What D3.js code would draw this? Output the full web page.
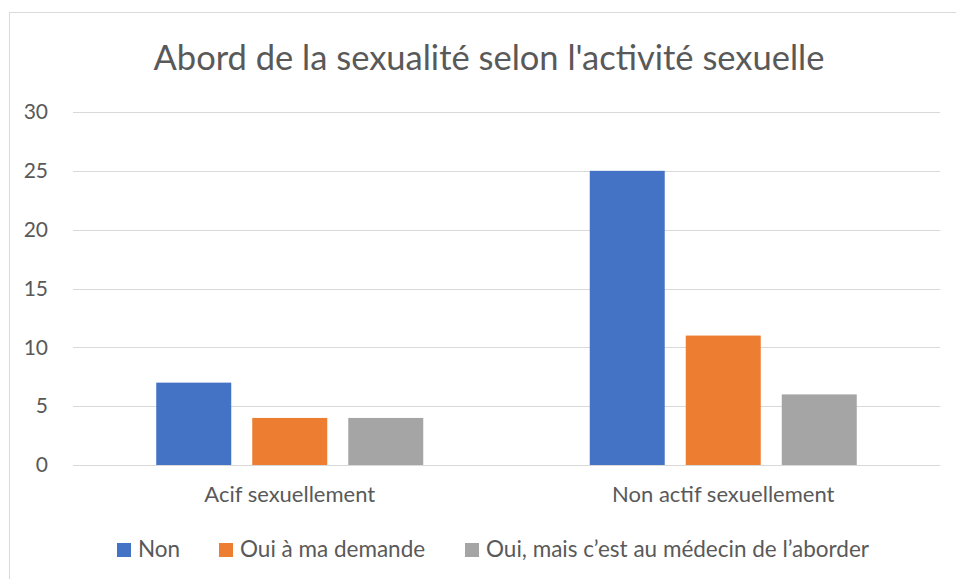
<!DOCTYPE html>
<html>
<head>
<meta charset="utf-8">
<script src="https://cdn.jsdelivr.net/npm/d3@7"></script>
<style>
  body { margin: 0; background: #fff; }
  text { font-family: Lato, sans-serif; fill: #595959; }
</style>
</head>
<body>
<div id="chart"></div>
<script>
// chart data
const categories = ["Acif sexuellement", "Non actif sexuellement"];
const seriesNames = ["Non", "Oui à ma demande", "Oui, mais c\u2019est au médecin de l\u2019aborder"];
const seriesNon = [7, 25];
const seriesOuiDemande = [4, 11];
const seriesOuiMedecin = [4, 6];
const yTicks = [0, 5, 10, 15, 20, 25, 30];
const colors = ["#4472c4", "#ed7d31", "#a5a5a5"];

const width = 956, height = 579;
const margin = { left: 73, right: 16, top: 112, bottom: 114 };

const svg = d3.select("#chart").append("svg")
    .attr("width", width)
    .attr("height", height);

// chart border
svg.append("rect")
    .attr("x", 9.5).attr("y", 12.5)
    .attr("width", 960).attr("height", 600)
    .attr("fill", "none")
    .attr("stroke", "#d9d9d9");

// title
svg.append("text")
    .attr("x", 489).attr("y", 70)
    .attr("text-anchor", "middle")
    .style("font-size", "34.5px")
    .text("Abord de la sexualité selon l'activité sexuelle");

const x0 = d3.scaleBand()
    .domain(categories)
    .range([margin.left, width - margin.right]);

const x1 = d3.scaleBand()
    .domain(seriesNames)
    .range([0, x0.bandwidth()])
    .paddingInner(0.219)
    .paddingOuter(0.867);

const y = d3.scaleLinear()
    .domain([0, 30])
    .range([height - margin.bottom, margin.top]);

// gridlines
svg.append("g")
    .selectAll("line")
    .data(yTicks)
    .enter().append("line")
    .attr("x1", margin.left).attr("x2", width - margin.right)
    .attr("y1", d => Math.round(y(d)) + 0.5)
    .attr("y2", d => Math.round(y(d)) + 0.5)
    .attr("stroke", "#d9d9d9");

// y axis labels
const yAxis = d3.axisLeft(y).tickValues(yTicks).tickSize(0).tickPadding(0);
svg.append("g")
    .attr("transform", `translate(${48},0)`)
    .call(yAxis)
    .call(g => g.select(".domain").remove())
    .selectAll("text")
    .style("font-size", "21px")
    .attr("fill", "#595959");

// bars
const seriesValues = [seriesNon, seriesOuiDemande, seriesOuiMedecin];
const rows = [];
categories.forEach((c, i) => {
    seriesNames.forEach((s, j) => {
        rows.push({ cat: c, series: s, value: seriesValues[j][i], color: colors[j] });
    });
});

svg.append("g")
    .selectAll("rect")
    .data(rows)
    .enter().append("rect")
    .attr("x", d => x0(d.cat) + x1(d.series))
    .attr("y", d => y(d.value))
    .attr("width", x1.bandwidth())
    .attr("height", d => y(0) - y(d.value))
    .attr("fill", d => d.color);

// x axis labels
const xAxis = d3.axisBottom(x0).tickSize(0).tickPadding(0);
svg.append("g")
    .attr("transform", `translate(0,${502})`)
    .call(xAxis)
    .call(g => g.select(".domain").remove())
    .selectAll("text")
    .attr("dy", 0)
    .style("font-size", "22px")
    .attr("fill", "#595959");

// legend
const legendX = [117, 219, 465];
const legend = svg.append("g");
seriesNames.forEach((s, i) => {
    legend.append("rect")
        .attr("x", legendX[i]).attr("y", 543)
        .attr("width", 14).attr("height", 14)
        .attr("fill", colors[i]);
    legend.append("text")
        .attr("x", legendX[i] + 21).attr("y", 557)
        .style("font-size", "22.5px")
        .text(s);
});
</script>
</body>
</html>
